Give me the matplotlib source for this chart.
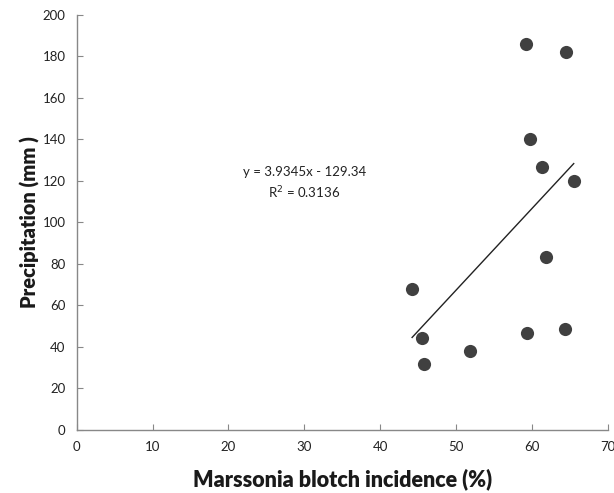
import matplotlib
matplotlib.use("Agg")
import matplotlib.pyplot as plt
import numpy as np

incidence = [59.2, 64.5, 59.7, 61.3, 65.5, 61.9, 44.2, 45.5, 45.8, 51.8, 59.3, 64.3]
precip = [185.9, 182.2, 140.1, 126.9, 119.8, 83.4, 68.0, 44.5, 31.8, 38.2, 46.6, 48.5]
slope, intercept = 3.9345, -129.34
x_ticks = [0, 10, 20, 30, 40, 50, 60, 70]
y_ticks = [0, 20, 40, 60, 80, 100, 120, 140, 160, 180, 200]

plt.rcParams['font.family'] = ['Lato', 'DejaVu Sans']

fig = plt.figure(figsize=(6.14, 4.93), dpi=100)
ax = fig.add_axes([0.125, 0.128, 0.865, 0.8416])

ax.scatter(incidence, precip, s=90, color='#404040', zorder=3, linewidths=0)
xs = np.array([min(incidence), max(incidence)])
ax.plot(xs, slope * xs + intercept, color='#222222', lw=1.0, zorder=2)

ax.set_xlim(0, 70)
ax.set_ylim(0, 200)
ax.set_xticks(x_ticks)
ax.set_yticks(y_ticks)
for s in ['top', 'right']:
    ax.spines[s].set_visible(False)
for s in ['left', 'bottom']:
    ax.spines[s].set_color('#888888')
    ax.spines[s].set_linewidth(1.0)
ax.tick_params(axis='both', direction='in', length=4, color='#888888', labelsize=9.5, labelcolor='#222222')
ax.tick_params(axis='x', pad=8)
ax.tick_params(axis='y', pad=8)

ax.set_xlabel('Marssonia blotch incidence (%)', fontsize=15.5, fontweight='heavy', color='#1a1a1a', labelpad=11)
ax.set_ylabel('Precipitation (mm )', fontsize=14.5, fontweight='heavy', color='#1a1a1a', labelpad=2)

ax.text(30.0, 124.5, 'y = 3.9345x - 129.34', ha='center', va='center', fontsize=9.5, color='#222222')
ax.text(30.0, 114.5, 'R$^2$ = 0.3136', ha='center', va='center', fontsize=9.5, color='#222222')

fig.savefig('out.png', dpi=100)
